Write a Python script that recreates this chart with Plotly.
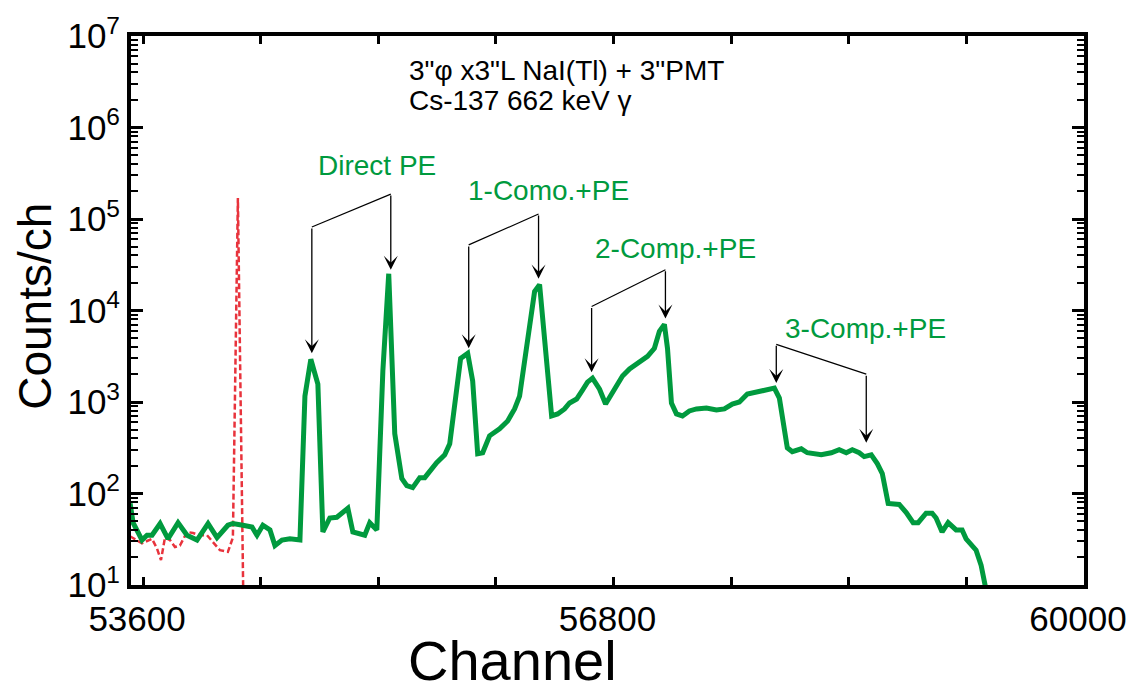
import numpy as np
import plotly.graph_objects as go

# ---------------- data ----------------
green_ch = [53512, 53532, 53593, 53627, 53661, 53716, 53770, 53838, 53899, 53967,
            54042, 54103, 54177, 54211, 54279, 54341, 54375, 54415, 54463, 54497,
            54545, 54599, 54667, 54701, 54741, 54789, 54823, 54870, 54918, 54993,
            55027, 55108, 55142, 55190, 55231, 55271, 55312, 55360, 55394, 55434,
            55482, 55516, 55597, 55652, 55686, 55720, 55760, 55808, 55842, 55876,
            55910, 55957, 56025, 56080, 56127, 56161, 56195, 56229, 56263, 56297,
            56331, 56379, 56420, 56467, 56501, 56549, 56589, 56623, 56657, 56705,
            56746, 56786, 56861, 56909, 56956, 57031, 57078, 57112, 57146, 57167,
            57194, 57228, 57269, 57316, 57364, 57432, 57500, 57554, 57608, 57656,
            57710, 57772, 57826, 57894, 57928, 57962, 57982, 58016, 58077, 58118,
            58213, 58281, 58335, 58383, 58424, 58471, 58505, 58553, 58594, 58628,
            58668, 58743, 58791, 58838, 58872, 58926, 58967, 58994, 59035, 59076,
            59130, 59171, 59198, 59266, 59300, 59334]
green_counts = [78, 48, 31, 35, 35, 47, 32, 48, 35, 31,
                47, 33, 45, 47, 45, 43, 35, 45, 40, 27,
                31, 32, 31, 1160, 2930, 1570, 38, 54, 55, 69,
                38, 35, 48, 40, 2170, 25200, 450, 146, 122, 116,
                149, 149, 217, 265, 349, 930, 3000, 3400, 1690, 272,
                279, 427, 509, 621, 840, 1160, 2790, 7590, 16100, 19200,
                4960, 704, 741, 840, 975, 1078, 1350, 1650, 1820, 1380,
                950, 1200, 1920, 2300, 2590, 3160, 3860, 5910, 7050, 3860,
                975, 741, 704, 798, 840, 861, 818, 840, 950, 1000,
                1220, 1280, 1320, 1420, 1105, 521, 316, 286, 308, 279,
                265, 279, 301, 279, 301, 279, 253, 265, 212, 165,
                78, 76, 62, 48, 48, 61, 61, 54, 38, 48,
                40, 40, 32, 24, 16.5, 8.8]

red_ch = [53512, 53593, 53661, 53695, 53722, 53749, 53783, 53817, 53851, 53899,
          53940, 53987, 54035, 54076, 54123, 54177, 54211, 54245, 54285]
red_counts = [34, 28.6, 32, 25, 18.7, 33, 31, 26, 27, 38,
              37, 35, 35, 29, 24, 23, 33, 170000, 3]

x_tick_vals = [53600, 54400, 55200, 56000, 56800, 57600, 58400, 59200, 60000]
x_tick_text = ["53600", "", "", "", "56800", "", "", "", "60000"]
y_decades = [1, 2, 3, 4, 5, 6, 7]

# peak labels: (text, label channel, label log10 y)
peak_labels = ["Direct PE", "1-Como.+PE", "2-Comp.+PE", "3-Comp.+PE"]
label_ch = [55190, 56358, 57221, 58512]
label_logy = [5.587, 5.315, 4.674, 3.804]

# brackets: left channel, right channel, left tip, left corner, right corner, right tip (log10 counts)
br_left = [54748, 55815, 56651, 57907]
br_right = [55285, 56290, 57153, 58519]
br_left_tip = [3.533, 3.587, 3.326, 3.207]
br_left_corner = [4.913, 4.717, 4.043, 3.630]
br_right_corner = [5.272, 5.054, 4.446, 3.304]
br_right_tip = [4.446, 4.348, 3.913, 2.554]

GREEN = "#009a3e"
RED = "#e8333c"
FONT = "Liberation Sans, Arial, Helvetica, sans-serif"

fig = go.Figure()

fig.add_trace(go.Scatter(x=red_ch, y=red_counts, mode="lines",
                         line=dict(color=RED, width=2.5, dash="6px,3px"),
                         hoverinfo="skip", showlegend=False))
fig.add_trace(go.Scatter(x=green_ch, y=green_counts, mode="lines",
                         line=dict(color=GREEN, width=5),
                         hoverinfo="skip", showlegend=False))

# diagonal parts of the brackets
dx, dy = [], []
for i in range(len(br_left)):
    dx += [br_left[i], br_right[i], None]
    dy += [10 ** br_left_corner[i], 10 ** br_right_corner[i], None]
fig.add_trace(go.Scatter(x=dx, y=dy, mode="lines",
                         line=dict(color="black", width=1.2),
                         hoverinfo="skip", showlegend=False))

annotations = []
for i in range(len(br_left)):
    for xc, yc, yt in [(br_left[i], br_left_corner[i], br_left_tip[i]),
                       (br_right[i], br_right_corner[i], br_right_tip[i])]:
        annotations.append(dict(x=xc, y=yt, ax=xc, ay=yc, xref="x", yref="y",
                                axref="x", ayref="y", text="", showarrow=True,
                                arrowhead=3, arrowsize=1.8, arrowwidth=1.3,
                                arrowcolor="black", standoff=0))
for t, xc, yl in zip(peak_labels, label_ch, label_logy):
    annotations.append(dict(x=xc, y=yl, xref="x", yref="y", text=t,
                            showarrow=False, font=dict(family=FONT, size=28, color=GREEN)))

annotations.append(dict(x=0.29, y=0.937, xref="paper", yref="paper", xanchor="left",
                        yanchor="middle",
                        text="3\"\u03c6 x3\"L NaI(Tl) + 3\"PMT", showarrow=False,
                        font=dict(family=FONT, size=28, color="black")))
annotations.append(dict(x=0.29, y=0.882, xref="paper", yref="paper", xanchor="left",
                        yanchor="middle",
                        text="Cs-137 662 keV \u03b3", showarrow=False,
                        font=dict(family=FONT, size=28, color="black")))
# axis titles
annotations.append(dict(x=-0.1006, y=0.507, xref="paper", yref="paper", text="Counts/ch",
                        xanchor="center", yanchor="middle",
                        textangle=-90, showarrow=False,
                        font=dict(family=FONT, size=46, color="black")))
annotations.append(dict(x=0.40, y=-0.138, xref="paper", yref="paper", text="Channel",
                        xanchor="center", yanchor="middle",
                        showarrow=False, font=dict(family=FONT, size=56, color="black")))

minor_vals = [m * 10 ** d for d in range(1, 7) for m in range(2, 10)]

fig.update_layout(
    width=1139, height=692, autosize=False,
    margin=dict(l=131, r=54, t=33, b=107),
    paper_bgcolor="white", plot_bgcolor="white",
    annotations=annotations,
    xaxis=dict(range=[53518, 60000], tickvals=x_tick_vals, ticktext=x_tick_text,
               ticks="inside", ticklen=8, tickwidth=2.5, tickcolor="black",
               showline=True, linewidth=4, linecolor="black", mirror="ticks",
               showgrid=False, zeroline=False, ticklabelshift=-6,
               tickfont=dict(family=FONT, size=35, color="black")),
    yaxis=dict(type="log", range=[1, 7],
               tickvals=[10 ** d for d in y_decades],
               ticktext=["10<sup>%d</sup>" % d for d in y_decades],
               ticks="inside", ticklen=12, tickwidth=2.5, tickcolor="black",
               showline=True, linewidth=4, linecolor="black", mirror="ticks",
               showgrid=False, zeroline=False,
               minor=dict(tickvals=minor_vals, ticks="inside", ticklen=7,
                          tickwidth=2, tickcolor="black", showgrid=False),
               tickfont=dict(family=FONT, size=35, color="black")),
)

fig.write_html("out.html", config={"displayModeBar": False},
               post_script="document.body.style.margin='0';")
